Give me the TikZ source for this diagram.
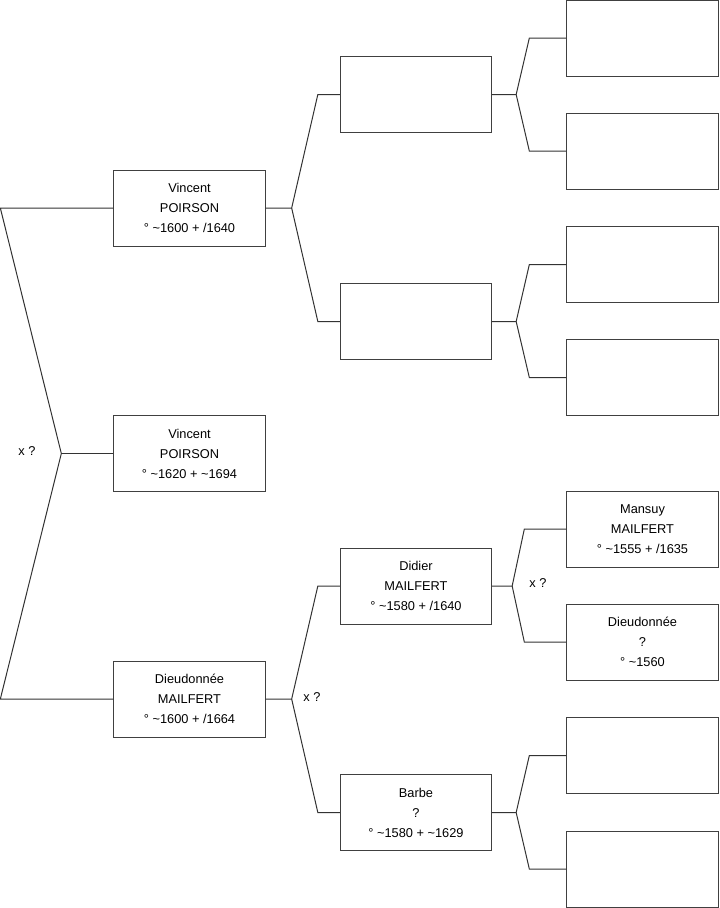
\documentclass[tikz,border=0pt]{standalone}
\usepackage{fontspec}
\setmainfont{Liberation Sans}
\usetikzlibrary{calc,positioning}
\tikzset{
  person/.style={draw=black!75, line width=0.75pt, minimum width=113.5pt, minimum height=57pt,
    inner sep=0pt, align=center, font=\fontsize{9.6}{15}\selectfont},
  link/.style={draw=black!80, line width=0.75pt},
  unionlabel/.style={font=\fontsize{9.6}{11}\selectfont}
}
\newcommand{\tld}{\textasciitilde}

\begin{document}
\begin{tikzpicture}[x=0.75pt, y=-0.75pt]
    \useasboundingbox (0,0) rectangle (719,908);

    % Generation 1
    \node[person] (root) at (189.5,453.5) {Vincent\\POIRSON\\° \tld1620 + \tld1694};

    % Generation 2
    \node[person] (fa) at (189.5,208) {Vincent\\POIRSON\\° \tld1600 + /1640};
    \node[person] (mo) at (189.5,699) {Dieudonnée\\MAILFERT\\° \tld1600 + /1664};

    % Generation 3
    \node[person] (pf) at (416,94.5) {};
    \node[person] (mf) at (416,321.5) {};
    \node[person] (pm) at (416,586) {Didier\\MAILFERT\\° \tld1580 + /1640};
    \node[person] (mm) at (416,812.5) {Barbe\\?\\° \tld1580 + \tld1629};

    % Generation 4
    \node[person] (a1) at (642.5,38) {};
    \node[person] (a2) at (642.5,151) {};
    \node[person] (a3) at (642.5,264.5) {};
    \node[person] (a4) at (642.5,377.5) {};
    \node[person] (a5) at (642.5,529) {Mansuy\\MAILFERT\\° \tld1555 + /1635};
    \node[person] (a6) at (642.5,642) {Dieudonnée\\?\\° \tld1560};
    \node[person] (a7) at (642.5,755.5) {};
    \node[person] (a8) at (642.5,869) {};

    % Root bracket
    \coordinate (jroot) at ($(root.west)+(-52,0)$);
    \draw[link] (fa.west) -- ($(fa.west)+(-113,0)$) -- (jroot) -- ($(mo.west)+(-113,0)$) -- (mo.west);
    \draw[link] (jroot) -- (root.west);

    % Parent brackets
    \foreach \p/\a/\b/\j/\c in {fa/pf/mf/26/22, mo/pm/mm/26/22, pf/a1/a2/24/37,
                                mf/a3/a4/24/37, pm/a5/a6/20/42, mm/a7/a8/24/37} {
        \draw[link] (\p.east) -- ++(\j,0) coordinate (j\p) -- ($(\a.west)+(-\c,0)$) -- (\a.west);
        \draw[link] (j\p) -- ($(\b.west)+(-\c,0)$) -- (\b.west);
    }

    % Marriage marks
    \node[unionlabel] (xroot) at (27,451) {x ?};
    \node[unionlabel] (xmo) at (312,697) {x ?};
    \node[unionlabel] (xpm) at (538,583) {x ?};
\end{tikzpicture}
\end{document}
